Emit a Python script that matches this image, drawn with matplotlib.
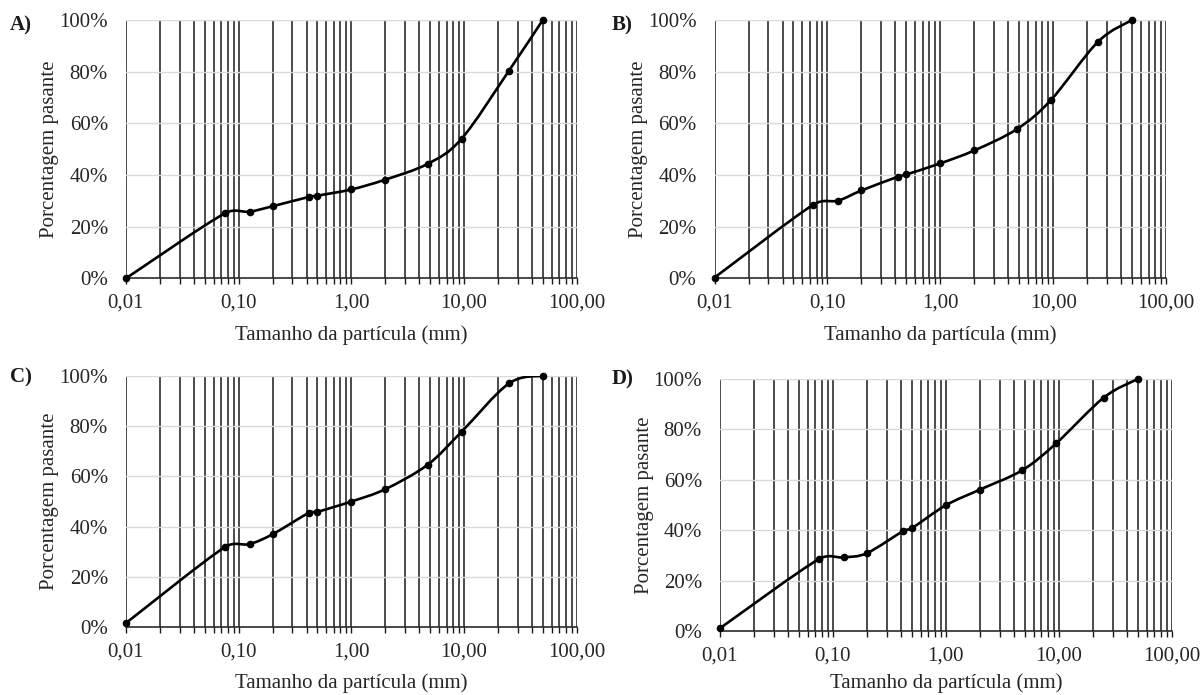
import numpy as np
import matplotlib
matplotlib.use("Agg")
import matplotlib.pyplot as plt
from matplotlib.path import Path
from matplotlib.patches import PathPatch
from matplotlib.ticker import LogLocator, FixedLocator, FixedFormatter, NullFormatter

# ---------------- data ----------------
sizes_mm = [0.01, 0.075, 0.125, 0.2, 0.42, 0.5, 1.0, 2.0, 4.75, 9.5, 25.0, 50.0]
passing_A = [0.0, 25.1, 25.8, 27.9, 31.5, 32.0, 34.4, 38.2, 44.3, 54.0, 80.3, 100.0]
passing_B = [0.3, 28.5, 30.1, 34.0, 39.3, 40.2, 44.5, 49.5, 57.7, 68.9, 91.6, 100.0]
passing_C = [1.7, 31.8, 33.1, 37.0, 45.5, 45.9, 50.0, 54.9, 64.6, 77.7, 96.9, 100.0]
passing_D = [1.1, 28.5, 29.2, 30.9, 39.7, 40.8, 49.9, 56.1, 63.8, 74.5, 92.6, 100.0]
panel_labels = ["A)", "B)", "C)", "D)"]
x_ticks = [0.01, 0.1, 1.0, 10.0, 100.0]
x_tick_labels = ["0,01", "0,10", "1,00", "10,00", "100,00"]
y_ticks = [0, 20, 40, 60, 80, 100]
y_tick_labels = ["0%", "20%", "40%", "60%", "80%", "100%"]
x_label = "Tamanho da partícula (mm)"
y_label = "Porcentagem pasante"

plt.rcParams['font.family'] = ['Liberation Serif', 'DejaVu Serif']
FS = 15
W, H = 1203, 695

fig = plt.figure(figsize=(W / 100, H / 100), dpi=100)

# pixel boxes: left, right, top, bottom
boxes = [
    (126, 576.7, 20, 278.3),
    (714.6, 1166, 20, 278.3),
    (126, 576.7, 375.7, 627.3),
    (720, 1171.7, 379, 631),
]
label_pos = [(10, 25), (612, 25), (10, 377), (612, 379)]
xlabel_y = [335, 335, 683, 683]
series = [passing_A, passing_B, passing_C, passing_D]


def smooth_path(x, y, sx, sy):
    """Excel-like smoothed line: Bezier segments with control arms limited
    to half the segment length (computed in display-proportional space)."""
    u = np.log10(np.asarray(x, float))
    pts = np.column_stack([u * sx, np.asarray(y, float) * sy])
    n = len(pts)
    verts = [pts[0]]
    codes = [Path.MOVETO]
    for i in range(n - 1):
        p1, p2 = pts[i], pts[i + 1]
        p0 = pts[i - 1] if i > 0 else p1
        p3 = pts[i + 2] if i + 2 < n else p2
        d12 = np.hypot(*(p2 - p1))
        d02 = np.hypot(*(p2 - p0))
        d13 = np.hypot(*(p3 - p1))
        f1 = 1 / 6.0
        f2 = 1 / 6.0
        if d02 > 0 and d02 / 6.0 > d12 / 2.0:
            f1 = d12 / 2.0 / d02
        if d13 > 0 and d13 / 6.0 > d12 / 2.0:
            f2 = d12 / 2.0 / d13
        c1 = p1 + (p2 - p0) * f1
        c2 = p2 - (p3 - p1) * f2
        verts += [c1, c2, p2]
        codes += [Path.CURVE4] * 3
    verts = np.array(verts)
    verts[:, 0] = 10 ** (verts[:, 0] / sx)
    verts[:, 1] = verts[:, 1] / sy
    return Path(verts, codes)


for (l, r, t, b), ys, lab, (lx, ly), xly in zip(boxes, series, panel_labels, label_pos, xlabel_y):
    ax = fig.add_axes([l / W, (H - b) / H, (r - l) / W, (b - t) / H])
    ax.set_xscale('log')
    ax.set_xlim(0.01, 100)
    ax.set_ylim(0, 100)

    ax.xaxis.set_major_locator(FixedLocator(x_ticks))
    ax.xaxis.set_major_formatter(FixedFormatter(x_tick_labels))
    ax.xaxis.set_minor_locator(LogLocator(base=10, subs=np.arange(2, 10), numticks=20))
    ax.xaxis.set_minor_formatter(NullFormatter())
    ax.yaxis.set_major_locator(FixedLocator(y_ticks))
    ax.yaxis.set_major_formatter(FixedFormatter(y_tick_labels))

    ax.grid(True, axis='y', color='#d9d9d9', lw=1.0, zorder=0)
    ax.grid(True, axis='x', which='both', color='#1a1a1a', lw=1.1, zorder=1)

    for s in ['top', 'right', 'left']:
        ax.spines[s].set_visible(False)
    ax.spines['bottom'].set_color('#1a1a1a')
    ax.spines['bottom'].set_linewidth(1.1)
    ax.spines['bottom'].set_zorder(2)

    ax.tick_params(axis='x', which='both', direction='out', length=4, width=1.0,
                   color='#1a1a1a', labelsize=FS, labelcolor='#262626', pad=7)
    ax.tick_params(axis='y', length=0, labelsize=FS, labelcolor='#262626', pad=13)

    sx = (r - l) / 4.0      # px per decade
    sy = (b - t) / 100.0    # px per percent
    patch = PathPatch(smooth_path(sizes_mm, ys, sx, sy), fill=False, edgecolor='black',
                      lw=1.9, zorder=4, capstyle='round', joinstyle='round')
    ax.add_patch(patch)
    ax.plot(sizes_mm, ys, 'o', color='black', ms=4.5, zorder=5, clip_on=False)

    ax.set_xlabel(x_label, fontsize=FS, color='#262626')
    ax.set_ylabel(y_label, fontsize=FS, color='#262626')
    ax.xaxis.label.set_verticalalignment('center')
    ax.yaxis.label.set_verticalalignment('center')
    ax.xaxis.set_label_coords(0.5, -(xly - b) / (b - t))
    ax.yaxis.set_label_coords(-76 / (r - l), 0.5)

    fig.text(lx / W, 1 - ly / H, lab, fontsize=FS, fontweight='bold',
             ha='left', va='center', color='#1a1a1a')

fig.savefig('out.png', dpi=100)
